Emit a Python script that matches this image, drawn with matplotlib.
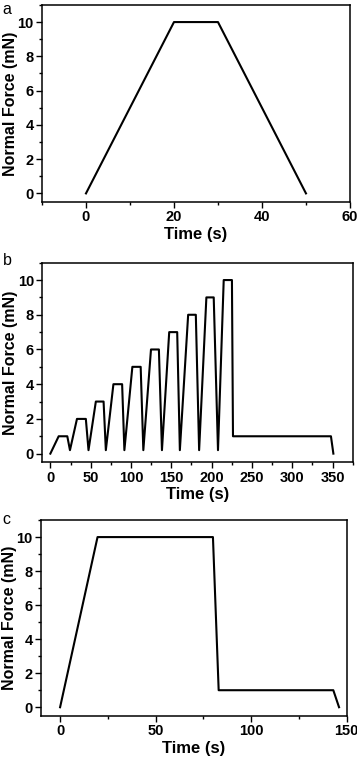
import matplotlib.pyplot as plt
from matplotlib.ticker import MultipleLocator

plt.rcParams['font.family'] = ['Liberation Sans', 'DejaVu Sans']

# Panel a: single trapezoid load
a_time = [0, 20, 30, 50]
a_force = [0, 10, 10, 0]

# Panel b: stepwise increasing loading cycles
b_time = [0, 10.3, 21, 24.3, 33, 44, 47.3, 56.4, 66, 68.8, 78.2, 89, 91.8,
          101.7, 112, 115.3, 124.8, 134.6, 138.4, 147.4, 157.3, 160.6,
          170.9, 180.4, 184.5, 193.5, 202.6, 207.9, 215, 225.2, 226.5,
          348, 351]
b_force = [0, 1, 1, 0.2, 2, 2, 0.2, 3, 3, 0.2, 4, 4, 0.2,
           5, 5, 0.2, 6, 6, 0.2, 7, 7, 0.2,
           8, 8, 0.2, 9, 9, 0.2, 10, 10, 1,
           1, 0]

# Panel c: hold at 10 mN then at 1 mN
c_time = [0, 19.6, 80, 83, 143, 146]
c_force = [0, 10, 10, 1, 1, 0]

panels = [
    ('a', a_time, a_force, (-10, 60), 20, 10, [0.1176, 0.7339, 0.8627, 0.2596], 0.998),
    ('b', b_time, b_force, (-10, 375), 50, 25, [0.1185, 0.3909, 0.8695, 0.2630], 0.667),
    ('c', c_time, c_force, (-10, 150), 50, 25, [0.1148, 0.0570, 0.8563, 0.2578], 0.325),
]

fig = plt.figure(figsize=(3.57, 7.59), dpi=100)

for letter, t, f, xlim, xmaj, xmin, rect, ly in panels:
    ax = fig.add_axes(rect)
    ax.plot(t, f, color='black', lw=1.5)
    ax.set_xlim(*xlim)
    ax.set_ylim(-0.5, 11)
    ax.xaxis.set_major_locator(MultipleLocator(xmaj))
    ax.xaxis.set_minor_locator(MultipleLocator(xmin))
    ax.yaxis.set_major_locator(MultipleLocator(2))
    ax.yaxis.set_minor_locator(MultipleLocator(1))
    ax.tick_params(which='major', direction='out', length=4, width=1.0,
                   labelsize=10.5, pad=2)
    ax.tick_params(which='minor', direction='out', length=2.5, width=1.0)
    for lab in ax.get_xticklabels() + ax.get_yticklabels():
        lab.set_fontweight('bold')
    for sp in ax.spines.values():
        sp.set_linewidth(1.1)
    ax.set_xlabel('Time (s)', fontsize=12, fontweight='bold', labelpad=2)
    ax.set_ylabel('Normal Force (mN)', fontsize=11.5, fontweight='bold')
    ax.yaxis.set_label_coords(-0.077, 0.5)
    fig.text(0.008, ly, letter, fontsize=11.5, va='top', ha='left')

fig.savefig('out.png', dpi=100)
